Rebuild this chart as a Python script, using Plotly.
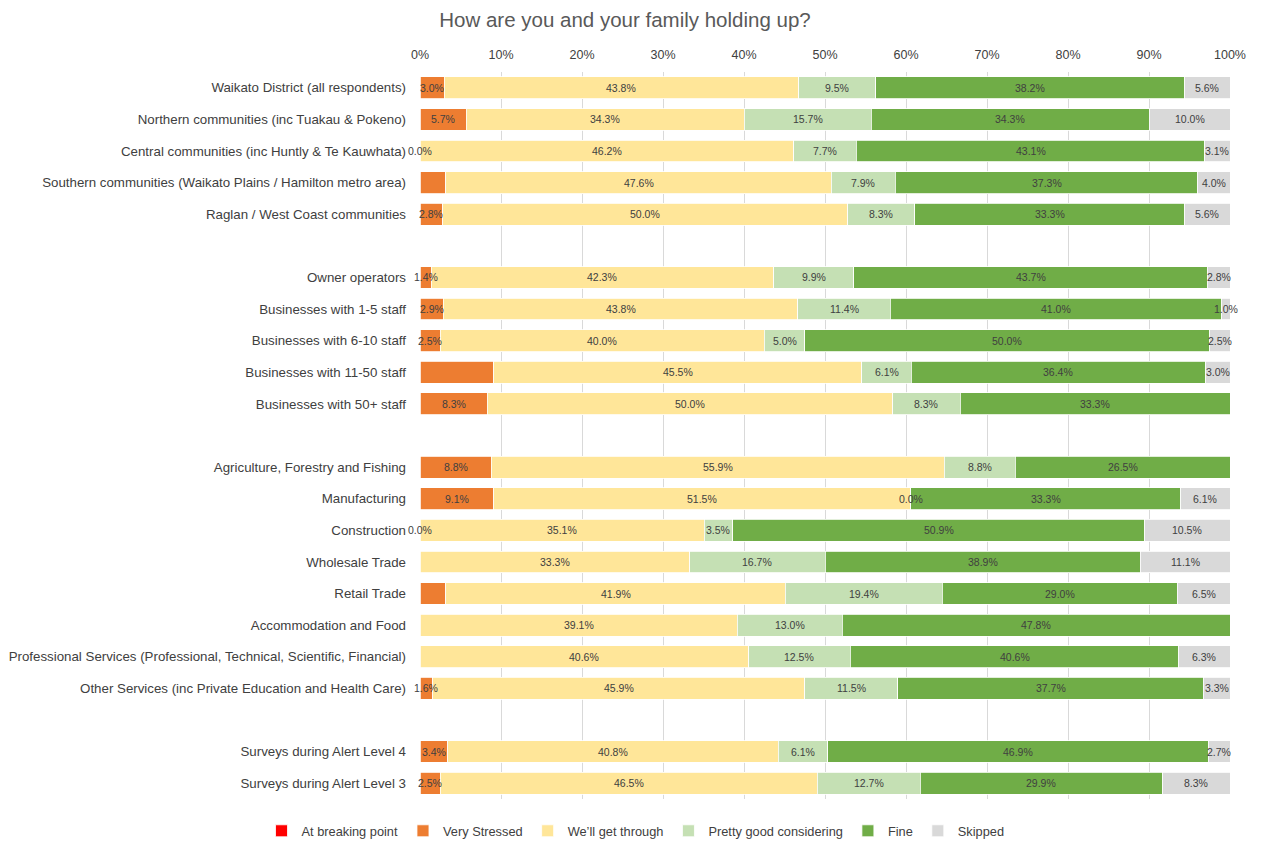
import plotly.graph_objects as go

categories = [
    "Waikato District (all respondents)",
    "Northern communities (inc Tuakau & Pokeno)",
    "Central communities (inc Huntly & Te Kauwhata)",
    "Southern communities (Waikato Plains / Hamilton metro area)",
    "Raglan / West Coast communities",
    " ",
    "Owner operators",
    "Businesses with 1-5 staff",
    "Businesses with 6-10 staff",
    "Businesses with 11-50 staff",
    "Businesses with 50+ staff",
    "  ",
    "Agriculture, Forestry and Fishing",
    "Manufacturing",
    "Construction",
    "Wholesale Trade",
    "Retail Trade",
    "Accommodation and Food",
    "Professional Services (Professional, Technical, Scientific, Financial)",
    "Other Services (inc Private Education and Health Care)",
    "   ",
    "Surveys during Alert Level 4",
    "Surveys during Alert Level 3",
]

# values in % (None = spacer row)
breaking = [0, 0, 0, 0, 0, None, 0, 0, 0, 0, 0, None, 0, 0, 0, 0, 0, 0, 0, 0, None, 0, 0]
very_stressed = [3.0, 5.7, 0.0, 3.2, 2.8, None, 1.4, 2.9, 2.5, 9.1, 8.3, None,
                 8.8, 9.1, 0.0, 0.0, 3.2, 0.0, 0.0, 1.6, None, 3.4, 2.5]
get_through = [43.8, 34.3, 46.2, 47.6, 50.0, None, 42.3, 43.8, 40.0, 45.5, 50.0, None,
               55.9, 51.5, 35.1, 33.3, 41.9, 39.1, 40.6, 45.9, None, 40.8, 46.5]
pretty_good = [9.5, 15.7, 7.7, 7.9, 8.3, None, 9.9, 11.4, 5.0, 6.1, 8.3, None,
               8.8, 0.0, 3.5, 16.7, 19.4, 13.0, 12.5, 11.5, None, 6.1, 12.7]
fine = [38.2, 34.3, 43.1, 37.3, 33.3, None, 43.7, 41.0, 50.0, 36.4, 33.3, None,
        26.5, 33.3, 50.9, 38.9, 29.0, 47.8, 40.6, 37.7, None, 46.9, 29.9]
skipped = [5.6, 10.0, 3.1, 4.0, 5.6, None, 2.8, 1.0, 2.5, 3.0, 0.0, None,
           0.0, 6.1, 10.5, 11.1, 6.5, 0.0, 6.3, 3.3, None, 2.7, 8.3]

# which data labels are shown in the original (1 = shown)
bp_show = [0] * len(categories)
vs_show = [1, 1, 1, 0, 1, 0, 1, 1, 1, 0, 1, 0, 1, 1, 1, 0, 0, 0, 0, 1, 0, 1, 1]
wg_show = [1, 1, 1, 1, 1, 0, 1, 1, 1, 1, 1, 0, 1, 1, 1, 1, 1, 1, 1, 1, 0, 1, 1]
pg_show = [1, 1, 1, 1, 1, 0, 1, 1, 1, 1, 1, 0, 1, 1, 1, 1, 1, 1, 1, 1, 0, 1, 1]
fi_show = [1, 1, 1, 1, 1, 0, 1, 1, 1, 1, 1, 0, 1, 1, 1, 1, 1, 1, 1, 1, 0, 1, 1]
sk_show = [1, 1, 1, 1, 1, 0, 1, 1, 1, 1, 0, 0, 0, 1, 1, 1, 1, 0, 1, 1, 0, 1, 1]

series = [
    ("At breaking point", breaking, "#FF0000", bp_show),
    ("Very Stressed", very_stressed, "#ED7D31", vs_show),
    ("We\u2019ll get through", get_through, "#FFE699", wg_show),
    ("Pretty good considering", pretty_good, "#C5E0B4", pg_show),
    ("Fine", fine, "#70AD47", fi_show),
    ("Skipped", skipped, "#D9D9D9", sk_show),
]

LABEL_FONT = dict(size=10.5, color="#404040", family="Liberation Sans")

fig = go.Figure()
for name, vals, color, show in series:
    fig.add_trace(go.Bar(
        name=name, y=categories, x=vals, orientation="h",
        marker=dict(color=color, line=dict(color="white", width=0.8)),
        hoverinfo="name+x",
    ))

# data labels centred on each segment (positions derived from the data, 100% normalised)
for i, cat in enumerate(categories):
    row = [s[1][i] for s in series]
    if row[0] is None:
        continue
    total = sum(row)
    cum = 0.0
    for (name, vals, color, show), v in zip(series, row):
        pct = v / total * 100
        if show[i]:
            fig.add_annotation(x=cum + pct / 2, y=cat, xref="x", yref="y",
                               text=f"{v:.1f}%", showarrow=False,
                               font=LABEL_FONT, xanchor="center", yanchor="middle")
        cum += pct

fig.update_layout(
    barmode="stack",
    barnorm="percent",
    width=1255, height=835,
    margin=dict(l=412, r=33, t=64, b=44, autoexpand=False),
    paper_bgcolor="white", plot_bgcolor="white",
    bargap=0.31,
    font=dict(family="Liberation Sans", size=13, color="#404040"),
    title=dict(text="How are you and your family holding up?", x=0.4916, xanchor="center",
               y=0.9856, yanchor="middle",
               font=dict(size=20.5, color="#595959", family="Liberation Sans")),
    legend=dict(orientation="h", x=0.5, xanchor="center", xref="container",
                y=0.0144, yref="container", yanchor="middle",
                font=dict(size=12.8, color="#404040"), traceorder="normal",
                itemwidth=30),
    showlegend=True,
)
fig.update_xaxes(side="top", range=[0, 100], dtick=10, ticksuffix="%", automargin=False,
                 showgrid=True, gridcolor="#D9D9D9", gridwidth=1,
                 zeroline=False, showline=False, ticklabelstandoff=10,
                 tickfont=dict(size=12.5, color="#404040"))
fig.update_yaxes(categoryorder="array", categoryarray=categories, autorange="reversed",
                 automargin=False,
                 showgrid=False, tickfont=dict(size=13.3, color="#404040"), ticks="",
                 ticklabelstandoff=13)

fig.write_html("out.html")
